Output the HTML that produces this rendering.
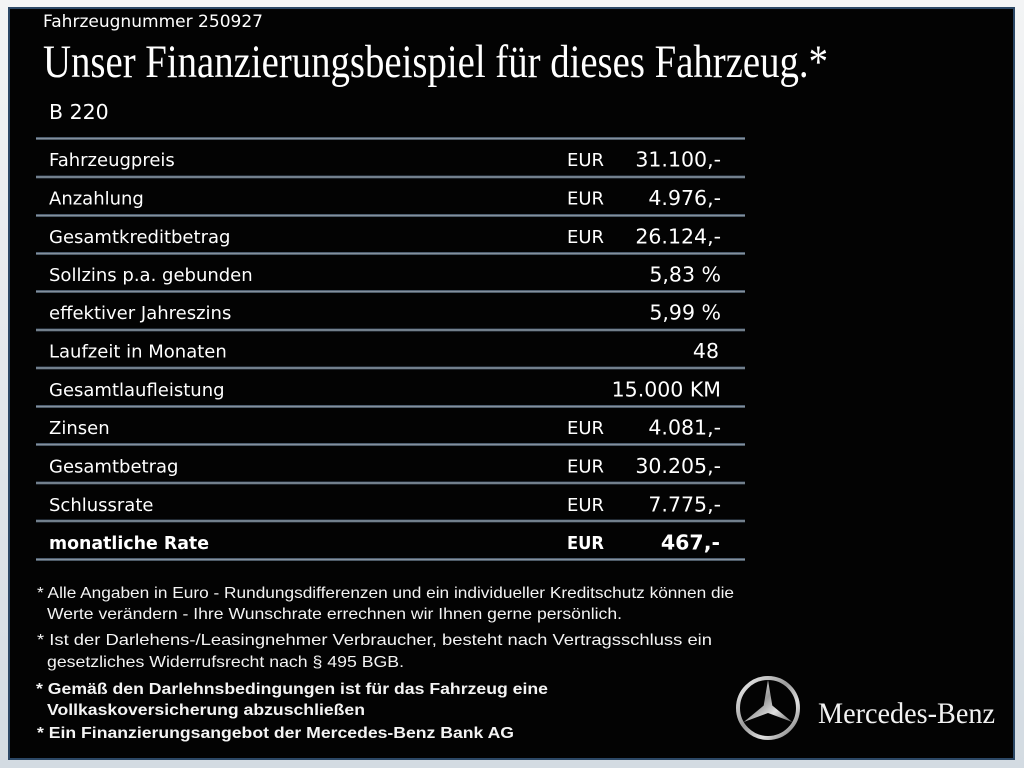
<!DOCTYPE html>
<html><head><meta charset="utf-8"><style>
html,body{margin:0;padding:0;background:#e3e8ed;}
svg{display:block;}
</style></head><body>
<svg width="1024" height="768" viewBox="0 0 1024 768" xmlns="http://www.w3.org/2000/svg">
<defs>
<linearGradient id="bg" x1="0" y1="0" x2="0" y2="1">
<stop offset="0" stop-color="#f3f4f5"/><stop offset="1" stop-color="#d3dbe2"/>
</linearGradient>
<linearGradient id="ln" x1="0" y1="0" x2="0" y2="1">
<stop offset="0" stop-color="#2a3c50"/><stop offset="0.5" stop-color="#96a2ad"/><stop offset="1" stop-color="#2a3846"/>
</linearGradient>
<linearGradient id="sil" x1="0" y1="0" x2="1" y2="1">
<stop offset="0" stop-color="#f4f4f4"/><stop offset="0.45" stop-color="#9a9a9a"/><stop offset="0.7" stop-color="#e0e0e0"/><stop offset="1" stop-color="#6a6a6a"/>
</linearGradient>
</defs>
<rect x="0" y="0" width="1024" height="768" fill="url(#bg)"/>
<rect x="9" y="8" width="1005" height="751" fill="#030303" stroke="#2c4866" stroke-width="2"/>

<g font-family="'DejaVu Sans','Liberation Sans',sans-serif" fill="#ffffff">
<text x="43" y="27" font-size="17" textLength="220" lengthAdjust="spacingAndGlyphs">Fahrzeugnummer 250927</text>
<text x="49" y="119" font-size="20.5">B 220</text>
</g>
<text x="43" y="77" font-family="'Liberation Serif','DejaVu Serif',serif" font-size="47" fill="#ffffff" textLength="785" lengthAdjust="spacingAndGlyphs">Unser Finanzierungsbeispiel für dieses Fahrzeug.*</text>

<g fill="url(#ln)">
<rect x="36" y="137" width="709" height="3"/>
<rect x="36" y="175.5" width="709" height="3"/>
<rect x="36" y="214" width="709" height="3"/>
<rect x="36" y="252" width="709" height="3"/>
<rect x="36" y="290" width="709" height="3"/>
<rect x="36" y="328.5" width="709" height="3"/>
<rect x="36" y="366.5" width="709" height="3"/>
<rect x="36" y="405" width="709" height="3"/>
<rect x="36" y="443" width="709" height="3"/>
<rect x="36" y="481.5" width="709" height="3"/>
<rect x="36" y="519.5" width="709" height="3"/>
<rect x="36" y="558" width="709" height="3"/>
</g>

<g font-family="'DejaVu Sans','Liberation Sans',sans-serif" fill="#ffffff" font-size="18">
<text x="49" y="166">Fahrzeugpreis</text>
<text x="49" y="204.5">Anzahlung</text>
<text x="49" y="243">Gesamtkreditbetrag</text>
<text x="49" y="281">Sollzins p.a. gebunden</text>
<text x="49" y="319">effektiver Jahreszins</text>
<text x="49" y="357.5">Laufzeit in Monaten</text>
<text x="49" y="396">Gesamtlaufleistung</text>
<text x="49" y="434">Zinsen</text>
<text x="49" y="472.5">Gesamtbetrag</text>
<text x="49" y="511">Schlussrate</text>
<text x="49" y="549" font-weight="bold" textLength="160" lengthAdjust="spacingAndGlyphs">monatliche Rate</text>

<text x="567" y="166">EUR</text>
<text x="567" y="204.5">EUR</text>
<text x="567" y="243">EUR</text>
<text x="567" y="434">EUR</text>
<text x="567" y="472.5">EUR</text>
<text x="567" y="511">EUR</text>
<text x="567" y="549" font-weight="bold" textLength="37" lengthAdjust="spacingAndGlyphs">EUR</text>
</g>
<g font-family="'DejaVu Sans','Liberation Sans',sans-serif" fill="#ffffff" font-size="20.5" text-anchor="end">
<text x="721" y="166.5">31.100,-</text>
<text x="721" y="205">4.976,-</text>
<text x="721" y="243.5">26.124,-</text>
<text x="721" y="281.5">5,83 %</text>
<text x="721" y="319.5">5,99 %</text>
<text x="719" y="358">48</text>
<text x="721" y="396.5">15.000 KM</text>
<text x="721" y="434.5">4.081,-</text>
<text x="721" y="473">30.205,-</text>
<text x="721" y="511.5">7.775,-</text>
<text x="720" y="549.5" font-weight="bold">467,-</text>
</g>

<g font-family="'Liberation Sans','DejaVu Sans',sans-serif" fill="#f4f4f4" font-size="16">
<text x="37" y="598" textLength="697" lengthAdjust="spacingAndGlyphs">* Alle Angaben in Euro - Rundungsdifferenzen und ein individueller Kreditschutz können die</text>
<text x="47" y="619" textLength="575" lengthAdjust="spacingAndGlyphs">Werte verändern - Ihre Wunschrate errechnen wir Ihnen gerne persönlich.</text>
<text x="37" y="645" textLength="675" lengthAdjust="spacingAndGlyphs">* Ist der Darlehens-/Leasingnehmer Verbraucher, besteht nach Vertragsschluss ein</text>
<text x="47" y="667" textLength="357" lengthAdjust="spacingAndGlyphs">gesetzliches Widerrufsrecht nach § 495 BGB.</text>
<g font-weight="bold">
<text x="36" y="694" textLength="512" lengthAdjust="spacingAndGlyphs">* Gemäß den Darlehnsbedingungen ist für das Fahrzeug eine</text>
<text x="47" y="715" textLength="318" lengthAdjust="spacingAndGlyphs">Vollkaskoversicherung abzuschließen</text>
<text x="37" y="738" textLength="477" lengthAdjust="spacingAndGlyphs">* Ein Finanzierungsangebot der Mercedes-Benz Bank AG</text>
</g>
</g>

<g>
<circle cx="768" cy="708" r="30" fill="none" stroke="url(#sil)" stroke-width="4"/>
<polygon points="768,680 772.3,705.5 792.2,722 768,713 743.8,722 763.7,705.5" fill="url(#sil)"/>
</g>
<text x="818" y="723" font-family="'Liberation Serif','DejaVu Serif',serif" font-size="30" fill="#f2f2f2" textLength="177" lengthAdjust="spacingAndGlyphs">Mercedes-Benz</text>
</svg>
</body></html>
